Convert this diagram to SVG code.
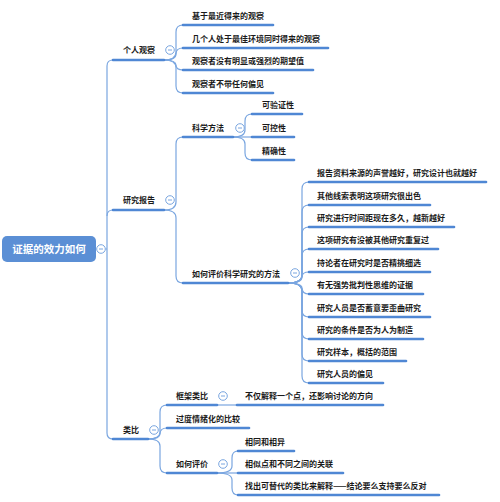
<svg xmlns="http://www.w3.org/2000/svg" width="500" height="502" viewBox="0 0 500 502">
<style>
.c{fill:none;stroke:#7aa6e0;stroke-width:1.2}
.u{fill:none;stroke:#4f87d4;stroke-width:2.6;stroke-linecap:round}
.t{font-family:"Noto Sans CJK SC","Noto Sans",sans-serif;font-size:8px;font-weight:bold;fill:#1a1a1a}
.r{font-family:"Noto Sans CJK SC","Noto Sans",sans-serif;font-size:10.5px;font-weight:bold;fill:#ffffff}
.k circle{fill:#fff;stroke:#7aa6e0;stroke-width:1}
.k line{stroke:#7aa6e0;stroke-width:1}
</style>
<rect width="500" height="502" fill="#fff"/>
<g id="connectors">
<path class="c" d="M113,60 Q107,60 107,66 V433 Q107,439 113,439"/>
<path class="c" d="M107,216 Q107,210 113,210"/>
<path class="c" d="M105.5,249 H107"/>
<path class="c" d="M164,60 Q176,60 176,52 V32 Q176,25 183,25"/>
<path class="c" d="M164,60 Q176,60 176,54 Q176,48 183,48"/>
<path class="c" d="M164,60 Q176,60 176,65 Q176,70 183,70"/>
<path class="c" d="M164,60 Q176,60 176,68 V86 Q176,93 183,93"/>
<path class="c" d="M164,210 Q176,210 176,202 V144 Q176,137 183,137"/>
<path class="c" d="M164,210 Q176,210 176,218 V276 Q176,283 183,283"/>
<path class="c" d="M233,137 Q245,137 245,130 V121 Q245,114 252,114"/>
<path class="c" d="M233,137 H252"/>
<path class="c" d="M233,137 Q245,137 245,144 V153 Q245,160 252,160"/>
<path class="c" d="M288,283 Q302,283 302,275 V189 Q302,182 309,182"/>
<path class="c" d="M288,283 Q302,283 302,275 V212 Q302,205 309,205"/>
<path class="c" d="M288,283 Q302,283 302,275 V234 Q302,227 309,227"/>
<path class="c" d="M288,283 Q302,283 302,275 V256 Q302,249 309,249"/>
<path class="c" d="M288,283 Q302,283 302,277 Q302,272 309,272"/>
<path class="c" d="M288,283 Q302,283 302,288 Q302,294 309,294"/>
<path class="c" d="M288,283 Q302,283 302,291 V310 Q302,317 309,317"/>
<path class="c" d="M288,283 Q302,283 302,291 V332 Q302,339 309,339"/>
<path class="c" d="M288,283 Q302,283 302,291 V354 Q302,361 309,361"/>
<path class="c" d="M288,283 Q302,283 302,291 V376 Q302,383 309,383"/>
<path class="c" d="M148,439 Q160,439 160,432 V412 Q160,405 167,405"/>
<path class="c" d="M148,439 Q160,439 160,434 Q160,428 167,428"/>
<path class="c" d="M148,439 Q160,439 160,446 V466 Q160,473 167,473"/>
<path class="c" d="M217,405 H237"/>
<path class="c" d="M217,473 Q232,473 232,466 V458 Q232,451 238,451"/>
<path class="c" d="M217,473 H238"/>
<path class="c" d="M217,473 Q232,473 232,480 V488 Q232,495 238,495"/>
</g>
<g id="root">
<rect x="2" y="236" width="94" height="26" rx="5" fill="#5b8fd5"/>
<text class="r" x="49" y="253" text-anchor="middle">证据的效力如何</text>
<g class="k"><circle cx="101" cy="249" r="4.3"/><line x1="99" y1="249" x2="103" y2="249"/></g>
</g>
<g id="n-personal">
<line class="u" x1="113" y1="60" x2="164" y2="60"/>
<text class="t" x="123" y="53">个人观察</text>
<g class="k"><circle cx="170" cy="50" r="4.3"/><line x1="168" y1="50" x2="172" y2="50"/></g>
</g>
<g id="n-p1"><line class="u" x1="183" y1="25" x2="273" y2="25"/><text class="t" x="192" y="19">基于最近得来的观察</text></g>
<g id="n-p2"><line class="u" x1="183" y1="48" x2="328" y2="48"/><text class="t" x="192" y="42">几个人处于最佳环境同时得来的观察</text></g>
<g id="n-p3"><line class="u" x1="183" y1="70" x2="313" y2="70"/><text class="t" x="192" y="64">观察者没有明显或强烈的期望值</text></g>
<g id="n-p4"><line class="u" x1="183" y1="93" x2="273" y2="93"/><text class="t" x="192" y="87">观察者不带任何偏见</text></g>
<g id="n-research">
<line class="u" x1="113" y1="210" x2="164" y2="210"/>
<text class="t" x="123" y="203">研究报告</text>
<g class="k"><circle cx="170" cy="200" r="4.3"/><line x1="168" y1="200" x2="172" y2="200"/></g>
</g>
<g id="n-sci">
<line class="u" x1="183" y1="137" x2="233" y2="137"/>
<text class="t" x="192" y="131">科学方法</text>
<g class="k"><circle cx="240" cy="128" r="4.3"/><line x1="238" y1="128" x2="242" y2="128"/></g>
</g>
<g id="n-s1"><line class="u" x1="252" y1="114" x2="302" y2="114"/><text class="t" x="262" y="108">可验证性</text></g>
<g id="n-s2"><line class="u" x1="252" y1="137" x2="294" y2="137"/><text class="t" x="262" y="131">可控性</text></g>
<g id="n-s3"><line class="u" x1="252" y1="160" x2="294" y2="160"/><text class="t" x="262" y="154">精确性</text></g>
<g id="n-eval">
<line class="u" x1="183" y1="283" x2="288" y2="283"/>
<text class="t" x="192" y="277">如何评价科学研究的方法</text>
<g class="k"><circle cx="295" cy="273" r="4.3"/><line x1="293" y1="273" x2="297" y2="273"/></g>
</g>
<g id="n-e1"><line class="u" x1="309" y1="182" x2="486" y2="182"/><text class="t" x="317" y="176">报告资料来源的声誉越好，研究设计也就越好</text></g>
<g id="n-e2"><line class="u" x1="309" y1="205" x2="430" y2="205"/><text class="t" x="317" y="199">其他线索表明这项研究很出色</text></g>
<g id="n-e3"><line class="u" x1="309" y1="227" x2="454" y2="227"/><text class="t" x="317" y="221">研究进行时间距现在多久，越新越好</text></g>
<g id="n-e4"><line class="u" x1="309" y1="249" x2="438" y2="249"/><text class="t" x="317" y="243">这项研究有没被其他研究重复过</text></g>
<g id="n-e5"><line class="u" x1="309" y1="272" x2="430" y2="272"/><text class="t" x="317" y="266">持论者在研究时是否精挑细选</text></g>
<g id="n-e6"><line class="u" x1="309" y1="294" x2="423" y2="294"/><text class="t" x="317" y="288">有无强势批判性思维的证据</text></g>
<g id="n-e7"><line class="u" x1="309" y1="317" x2="430" y2="317"/><text class="t" x="317" y="311">研究人员是否蓄意要歪曲研究</text></g>
<g id="n-e8"><line class="u" x1="309" y1="339" x2="423" y2="339"/><text class="t" x="317" y="333">研究的条件是否为人为制造</text></g>
<g id="n-e9"><line class="u" x1="309" y1="361" x2="406" y2="361"/><text class="t" x="317" y="355">研究样本，概括的范围</text></g>
<g id="n-e10"><line class="u" x1="309" y1="383" x2="383" y2="383"/><text class="t" x="317" y="377">研究人员的偏见</text></g>
<g id="n-analogy">
<line class="u" x1="113" y1="439" x2="148" y2="439"/>
<text class="t" x="123" y="433">类比</text>
<g class="k"><circle cx="154" cy="430" r="4.3"/><line x1="152" y1="430" x2="156" y2="430"/></g>
</g>
<g id="n-frame">
<line class="u" x1="167" y1="405" x2="217" y2="405"/>
<text class="t" x="176" y="399">框架类比</text>
<g class="k"><circle cx="223" cy="396" r="4.3"/><line x1="221" y1="396" x2="225" y2="396"/></g>
</g>
<g id="n-f1"><line class="u" x1="237" y1="405" x2="383" y2="405"/><text class="t" x="245" y="399">不仅解释一个点，还影响讨论的方向</text></g>
<g id="n-emo"><line class="u" x1="167" y1="428" x2="249" y2="428"/><text class="t" x="176" y="422">过度情绪化的比较</text></g>
<g id="n-how">
<line class="u" x1="167" y1="473" x2="217" y2="473"/>
<text class="t" x="176" y="467">如何评价</text>
<g class="k"><circle cx="223" cy="464" r="4.3"/><line x1="221" y1="464" x2="225" y2="464"/></g>
</g>
<g id="n-h1"><line class="u" x1="238" y1="451" x2="294" y2="451"/><text class="t" x="245" y="445">相同和相异</text></g>
<g id="n-h2"><line class="u" x1="238" y1="473" x2="343" y2="473"/><text class="t" x="245" y="467">相似点和不同之间的关联</text></g>
<g id="n-h3"><line class="u" x1="238" y1="495" x2="439" y2="495"/><text class="t" x="245" y="489">找出可替代的类比来解释——结论要么支持要么反对</text></g>
</svg>
